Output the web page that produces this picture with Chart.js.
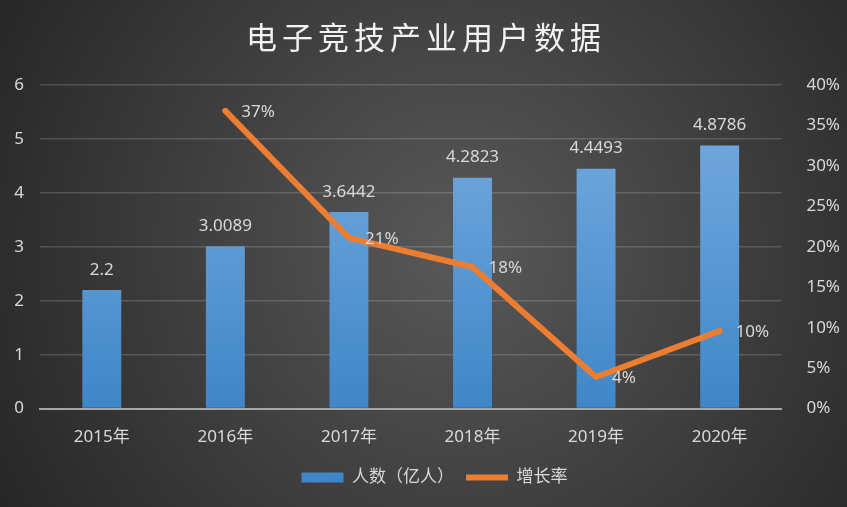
<!DOCTYPE html>
<html>
<head>
<meta charset="utf-8">
<script src="https://cdn.jsdelivr.net/npm/chart.js@4"></script>
<style>
  html, body { margin: 0; padding: 0; background: #2b2b2b; }
  #wrap { width: 847px; height: 507px; }
</style>
</head>
<body>
<div id="wrap"><canvas id="chart" width="847" height="507"></canvas></div>
<script>
// chart data
const years = ['2015年', '2016年', '2017年', '2018年', '2019年', '2020年'];
const users = [2.2, 3.0089, 3.6442, 4.2823, 4.4493, 4.8786];
const growth = [null, 36.8, 21.1, 17.5, 3.9, 9.6];
const growthLabels = ['', '37%', '21%', '18%', '4%', '10%'];

const FONT = '"Noto Sans", "Noto Sans CJK SC", sans-serif';
const TEXT = '#d9d9d9';

// background + title
const backdrop = {
    id: 'backdrop',
    beforeDraw(chart) {
        const { ctx, width, height } = chart;
        ctx.save();
        const g = ctx.createRadialGradient(460, 250, 20, 460, 250, 560);
        g.addColorStop(0, '#575757');
        g.addColorStop(1, '#232323');
        ctx.fillStyle = g;
        ctx.fillRect(0, 0, width, height);
        ctx.restore();
    },
    afterDraw(chart) {
        const { ctx } = chart;
        ctx.save();
        ctx.font = '31px ' + FONT;
        ctx.letterSpacing = '5px';
        ctx.fillStyle = '#f2f2f2';
        ctx.textAlign = 'center';
        ctx.textBaseline = 'middle';
        ctx.fillText('电子竞技产业用户数据', 426, 40);
        ctx.letterSpacing = '0px';
        ctx.restore();
    }
};

// value labels
const valueLabels = {
    id: 'valueLabels',
    afterDatasetsDraw(chart) {
        const { ctx } = chart;
        ctx.save();
        ctx.font = '17px ' + FONT;
        ctx.fillStyle = TEXT;
        ctx.textBaseline = 'middle';

        ctx.textAlign = 'center';
        chart.getDatasetMeta(1).data.forEach((bar, i) => {
            ctx.fillText(String(users[i]), bar.x, bar.y - 20);
        });

        ctx.textAlign = 'left';
        chart.getDatasetMeta(0).data.forEach((pt, i) => {
            if (growth[i] == null) return;
            ctx.fillText(growthLabels[i], pt.x + 16, pt.y + 1);
        });
        ctx.restore();
    }
};

function barFill(context) {
    const area = context.chart.chartArea;
    if (!area) return '#5b9bd5';
    const g = context.chart.ctx.createLinearGradient(0, area.top, 0, area.bottom);
    g.addColorStop(0, '#7aaee0');
    g.addColorStop(1, '#3f86c8');
    return g;
}

new Chart(document.getElementById('chart'), {
    data: {
        labels: years,
        datasets: [
            {
                type: 'line',
                label: '增长率',
                data: growth,
                yAxisID: 'y1',
                borderColor: '#ed7d31',
                backgroundColor: '#ed7d31',
                borderWidth: 6,
                borderCapStyle: 'round',
                borderJoinStyle: 'round',
                pointRadius: 0,
                pointStyle: 'line',
                tension: 0,
                order: 0
            },
            {
                type: 'bar',
                label: '人数（亿人）',
                data: users,
                yAxisID: 'y',
                backgroundColor: barFill,
                barPercentage: 0.63,
                categoryPercentage: 0.5,
                pointStyle: 'rect',
                order: 1
            }
        ]
    },
    plugins: [backdrop, valueLabels],
    options: {
        responsive: false,
        animation: false,
        layout: { padding: { top: 85, left: 12, right: -10, bottom: 11 } },
        plugins: {
            legend: {
                position: 'bottom',
                reverse: true,
                labels: {
                    usePointStyle: true,
                    pointStyleWidth: 42,
                    boxHeight: 10,
                    color: TEXT,
                    font: { family: FONT, size: 17 },
                    padding: 12
                }
            },
            tooltip: { enabled: false }
        },
        scales: {
            x: {
                grid: { display: false },
                border: { color: '#a6a6a6', width: 2 },
                ticks: { color: TEXT, font: { family: FONT, size: 17 }, padding: 10 }
            },
            y: {
                position: 'left',
                min: 0,
                max: 6,
                afterFit: s => { s.width = 28; },
                ticks: { stepSize: 1, color: TEXT, font: { family: FONT, size: 17 }, padding: 16 },
                grid: { color: 'rgba(255,255,255,0.16)', lineWidth: 1.5, drawTicks: false },
                border: { display: false }
            },
            y1: {
                position: 'right',
                min: 0,
                max: 40,
                ticks: {
                    stepSize: 5,
                    color: TEXT,
                    font: { family: FONT, size: 17 },
                    padding: 17,
                    callback: v => v + '%'
                },
                grid: { display: false },
                border: { display: false }
            }
        }
    }
});
</script>
</body>
</html>
